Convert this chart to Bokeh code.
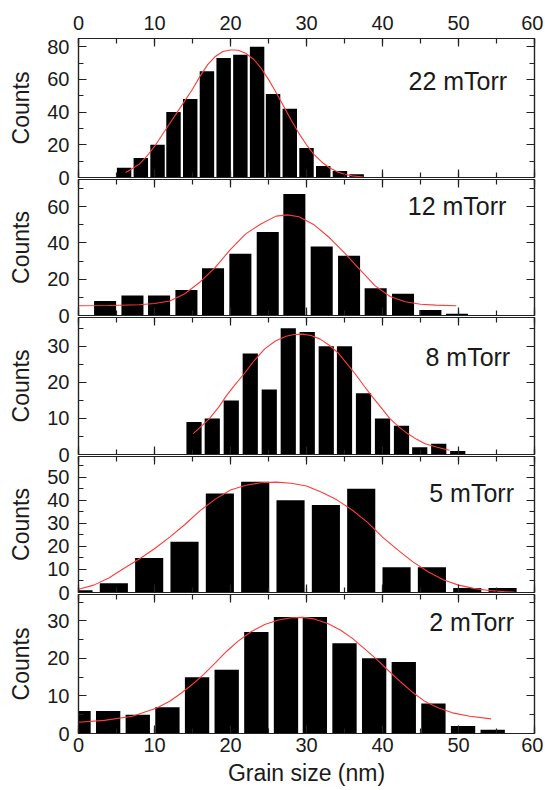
from bokeh.plotting import figure
from bokeh.models import LinearAxis, SingleIntervalTicker, Range1d, Label, CustomLabelingPolicy
from bokeh.layouts import column
from bokeh.embed import file_html
from bokeh.resources import INLINE

# ---------------- data ----------------
x_ticks_interval = 10
grain_min, grain_max = 0, 60

labels = ["22 mTorr", "12 mTorr", "8 mTorr", "5 mTorr", "2 mTorr"]

# 22 mTorr
p22_bin_centers = [6.0, 8.2, 10.4, 12.5, 14.7, 16.9, 19.1, 21.3, 23.5, 25.6, 27.8, 30.0, 32.2, 34.4, 36.6]
p22_counts = [6, 12, 20, 40, 48, 65, 73, 75, 80, 51, 42, 18, 7, 4, 2]
p22_bin_width = 1.9
p22_fit_x = [6.2, 7.0, 8.0, 9.0, 10.0, 11.0, 12.0, 13.0, 14.0, 15.0, 16.0, 17.0, 18.0, 19.0, 20.0, 20.5,
             21.0, 22.0, 23.0, 24.0, 25.0, 26.0, 27.0, 28.0, 29.0, 30.0, 31.0, 32.0, 33.0, 34.0, 35.0, 36.0, 37.5]
p22_fit_y = [3.1, 5.2, 8.2, 13.0, 19.0, 26.0, 33.0, 40.0, 47.0, 54.0, 62.0, 69.0, 74.0, 77.0, 78.0, 78.0,
             77.8, 76.0, 72.5, 67.0, 60.0, 52.0, 43.5, 35.0, 27.0, 20.0, 14.0, 9.5, 6.0, 3.6, 2.0, 1.0, 0.3]

# 12 mTorr
p12_bin_centers = [3.5, 7.1, 10.6, 14.2, 17.7, 21.3, 24.9, 28.4, 32.0, 35.6, 39.1, 42.7, 46.3, 49.8]
p12_counts = [8, 11, 11, 14, 26, 34, 46, 67, 38, 33, 15, 12, 3, 1]
p12_bin_width = 2.9
p12_fit_x = [0, 4, 8, 10, 12, 14, 16, 18, 20, 22, 24, 26, 27.5, 29, 31, 33, 35, 37, 39, 41, 43, 45, 47, 49.7]
p12_fit_y = [5.4, 5.5, 5.9, 6.6, 8.0, 12.0, 18.5, 26.5, 36.5, 45.0, 50.5, 54.8, 55.5, 54.5, 50.0, 43.0,
             34.5, 25.5, 16.5, 10.5, 7.6, 6.2, 5.7, 5.4]

# 8 mTorr
p8_bin_centers = [15.2, 17.6, 20.1, 22.6, 25.1, 27.6, 30.1, 32.6, 35.0, 37.5, 40.0, 42.5, 44.9, 47.4, 49.9]
p8_counts = [9, 10, 15, 28, 18, 35, 34, 30, 30, 17, 10, 8, 2, 3, 1]
p8_bin_width = 2.0
p8_fit_x = [15.1, 16.0, 17.2, 18.4, 19.5, 20.6, 21.8, 23.1, 24.5, 25.9, 27.3, 28.4, 29.5, 30.6, 31.8, 33.0,
            34.1, 35.2, 36.4, 37.5, 38.7, 39.9, 41.0, 42.2, 43.3, 44.5, 45.6, 47.2, 48.8]
p8_fit_y = [5.8, 7.5, 9.9, 13.0, 16.4, 19.4, 22.4, 26.0, 29.3, 31.5, 32.8, 33.3, 33.4, 33.0, 32.0, 30.3,
            28.3, 25.5, 22.4, 19.2, 15.9, 12.8, 9.9, 7.6, 5.8, 4.2, 3.0, 2.0, 1.2]

# 5 mTorr
p5_bin_centers = [0.0, 4.65, 9.3, 13.95, 18.6, 23.25, 27.9, 32.55, 37.2, 41.85, 46.5, 51.15, 55.8]
p5_counts = [1, 4, 15, 22, 43, 48, 40, 38, 45, 11, 11, 2, 2]
p5_bin_width = 3.7
p5_fit_x = [0, 2, 4, 6, 8, 10, 12, 14, 16, 18, 20, 22, 24, 26, 28, 30, 32, 34, 36, 38, 40, 42, 44, 46,
            48, 50, 52, 54, 56, 57.5]
p5_fit_y = [1.4, 3.2, 6.3, 10.5, 14.5, 19.0, 24.0, 29.5, 35.5, 40.5, 44.5, 46.5, 47.6, 47.9, 47.4, 46.2,
            43.5, 40.2, 35.8, 30.5, 24.0, 18.5, 13.3, 9.0, 5.5, 3.2, 1.8, 0.9, 0.4, 0.1]

# 2 mTorr
p2_bin_centers = [0.0, 3.9, 7.8, 11.7, 15.6, 19.5, 23.4, 27.3, 31.1, 35.0, 38.9, 42.8, 46.7, 50.6, 54.5]
p2_counts = [6, 6, 5, 7, 15, 17, 27, 31, 31, 24, 20, 19, 8, 2, 1]
p2_bin_width = 3.2
p2_fit_x = [0, 3.4, 7.1, 10.3, 12.0, 13.5, 15.0, 16.3, 18.0, 19.5, 21.0, 22.7, 24.5, 26.3, 28.0, 29.5,
            31.0, 32.8, 34.5, 36.0, 37.5, 39.2, 40.8, 42.4, 44.0, 45.6, 47.4, 49.2, 51.5, 54.3]
p2_fit_y = [3.0, 3.5, 4.6, 6.8, 8.6, 10.7, 13.1, 15.4, 18.8, 21.9, 24.6, 27.1, 29.0, 30.2, 30.8, 30.9,
            30.5, 29.3, 27.5, 25.4, 22.8, 19.8, 16.7, 13.7, 10.9, 8.5, 6.8, 5.5, 4.6, 3.9]

# ---------------- styling ----------------
FONT = "Liberation Sans"
TXT = "#1a1a1a"
AX = "#222222"
OVER = 12     # extra canvas below each frame so the "0" label is not clipped
TOP_IN = 2    # top border of inner panels

panels = [
    dict(c=p22_bin_centers, n=p22_counts, w=p22_bin_width, fx=p22_fit_x, fy=p22_fit_y,
         ymax=85, yint=20, fh=139, top=38, bottom=OVER, lab=(56.4, 59.0)),
    dict(c=p12_bin_centers, n=p12_counts, w=p12_bin_width, fx=p12_fit_x, fy=p12_fit_y,
         ymax=75, yint=20, fh=138, top=TOP_IN, bottom=OVER, lab=(56.3, 60.3)),
    dict(c=p8_bin_centers, n=p8_counts, w=p8_bin_width, fx=p8_fit_x, fy=p8_fit_y,
         ymax=38, yint=10, fh=139, top=TOP_IN, bottom=OVER, lab=(56.8, 27.0)),
    dict(c=p5_bin_centers, n=p5_counts, w=p5_bin_width, fx=p5_fit_x, fy=p5_fit_y,
         ymax=59, yint=10, fh=138, top=TOP_IN, bottom=OVER, lab=(57.3, 43.1)),
    dict(c=p2_bin_centers, n=p2_counts, w=p2_bin_width, fx=p2_fit_x, fy=p2_fit_y,
         ymax=37, yint=10, fh=141, top=TOP_IN, bottom=57, lab=(57.3, 29.8)),
]

xr = Range1d(grain_min, grain_max)
no_labels = CustomLabelingPolicy(code="return new Set()")


def style(ax, show_labels):
    ax.major_tick_in = 8
    ax.major_tick_out = 0
    ax.minor_tick_in = 5
    ax.minor_tick_out = 0
    ax.axis_line_color = AX
    ax.axis_line_width = 1.2
    ax.major_tick_line_color = AX
    ax.minor_tick_line_color = AX
    ax.major_tick_line_width = 1.2
    ax.minor_tick_line_width = 1.2
    if show_labels:
        ax.major_label_text_font = FONT
        ax.major_label_text_font_size = "20px"
        ax.major_label_text_color = TXT
    else:
        ax.major_label_policy = no_labels
        ax.major_label_text_font_size = "1px"
        ax.major_label_standoff = 0


figs = []
for i, d in enumerate(panels):
    h = d["top"] + d["fh"] + d["bottom"]
    styles = {}
    if i > 0:
        styles = {"margin-top": f"-{OVER + d['top']}px"}
    p = figure(width=543, height=h, x_range=xr, y_range=Range1d(0, d["ymax"]),
               output_backend="svg", toolbar_location=None,
               x_axis_location=None, y_axis_location=None,
               min_border_left=78, min_border_right=9,
               min_border_top=d["top"], min_border_bottom=d["bottom"],
               styles=styles)
    p.grid.visible = False
    p.outline_line_color = AX
    p.outline_line_width = 1.2
    p.background_fill_alpha = 0
    p.border_fill_alpha = 0

    p.vbar(x=d["c"], top=d["n"], width=d["w"], bottom=0, fill_color="black", line_color=None)
    p.line(d["fx"], d["fy"], line_color="#ff3a3a", line_width=1.1)

    # y axes
    yl = LinearAxis(ticker=SingleIntervalTicker(interval=d["yint"], num_minor_ticks=2))
    style(yl, True)
    yl.major_label_standoff = 9
    yl.axis_label = "Counts"
    yl.axis_label_text_font = FONT
    yl.axis_label_text_font_size = "23px"
    yl.axis_label_text_font_style = "normal"
    yl.axis_label_text_color = TXT
    yl.axis_label_standoff = 10
    p.add_layout(yl, "left")
    yr = LinearAxis(ticker=SingleIntervalTicker(interval=d["yint"], num_minor_ticks=2))
    style(yr, False)
    p.add_layout(yr, "right")

    # x axes
    xa = LinearAxis(ticker=SingleIntervalTicker(interval=x_ticks_interval, num_minor_ticks=2))
    style(xa, i == 0)
    if i == 0:
        xa.major_label_standoff = 9
    p.add_layout(xa, "above")
    xb = LinearAxis(ticker=SingleIntervalTicker(interval=x_ticks_interval, num_minor_ticks=2))
    style(xb, i == len(panels) - 1)
    if i == len(panels) - 1:
        xb.major_label_standoff = 4
        xb.axis_label = "Grain size (nm)"
        xb.axis_label_text_font = FONT
        xb.axis_label_text_font_size = "23px"
        xb.axis_label_text_font_style = "normal"
        xb.axis_label_text_color = TXT
        xb.axis_label_standoff = 5
    p.add_layout(xb, "below")

    lx, ly = d["lab"]
    p.add_layout(Label(x=lx, y=ly, text=labels[i], text_align="right", text_baseline="alphabetic",
                       text_font=FONT, text_font_size="25px", text_color=TXT))
    figs.append(p)

layout = column(*figs, spacing=0)
open("out.html", "w").write(file_html(layout, INLINE))
